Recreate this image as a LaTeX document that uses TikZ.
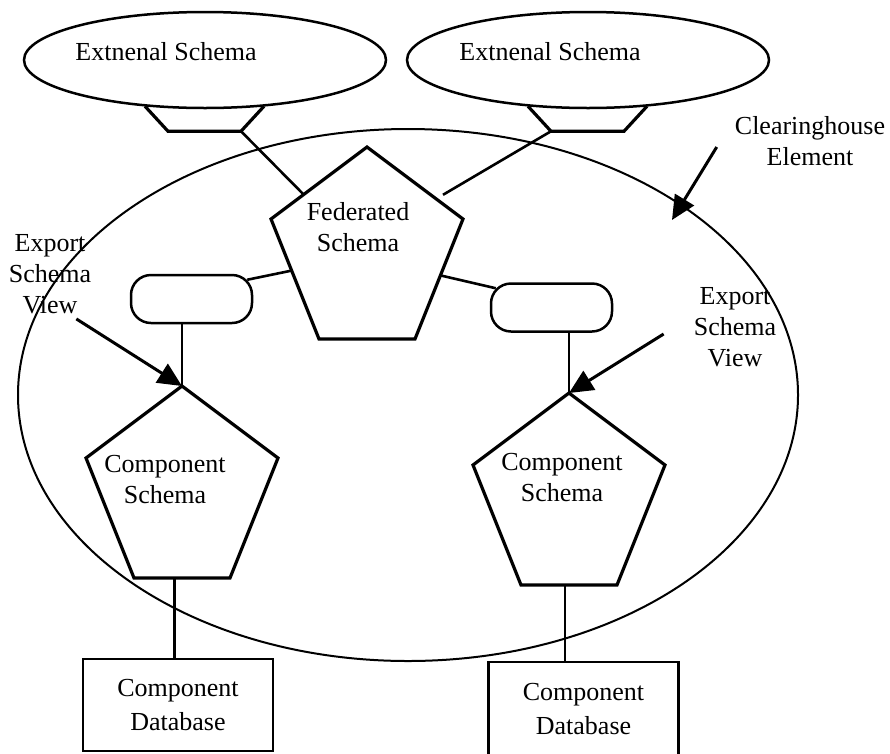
\documentclass[tikz,border=0pt]{standalone}
\usepackage{fontspec}
\setmainfont{Liberation Serif}
\usetikzlibrary{arrows.meta,shapes.geometric,calc}

\tikzset{
	extschema/.style={draw,ellipse,line width=2.5pt,minimum width=362pt,minimum height=96pt,inner sep=0pt},
	house/.style={draw,ellipse,line width=2pt,minimum width=780pt,minimum height=532pt,inner sep=0pt},
	viewbox/.style={draw,rounded corners=20pt,line width=2.5pt,minimum width=121pt,minimum height=48pt,inner sep=0pt},
	dbbox/.style={draw,rectangle,line width=2.7pt,minimum width=190pt,inner sep=0pt,align=center,font=\fontsize{26}{34}\selectfont},
	lbl/.style={align=center,inner sep=0pt},
	link/.style={line width=2.6pt},
	pentline/.style={line width=3.2pt,line join=miter},
	pointer/.style={line width=3pt,-{Triangle[length=24pt,width=22pt]}},
	pics/schemapent/.style={code={
		\draw[pentline] (0,0) coordinate (-top) -- (-96,72) coordinate (-ul) -- (-48,192) coordinate (-ll)
			-- (48,192) coordinate (-lr) -- (96,72) coordinate (-ur) -- cycle;
	}}
}

\begin{document}
\begin{tikzpicture}[x=1pt,y=-1pt,font=\fontsize{26}{31}\selectfont]
	\useasboundingbox (0,0) rectangle (890,753);
	\node[house] (house) at (408,395) {};
	\node[extschema] (ext1) at (205,60) {};
	\node[extschema] (ext2) [right of=ext1,node distance=383pt] {};
	\node[lbl] (ext1txt) at (166,52) {Extnenal Schema};
	\node[lbl] (ext2txt) at (550,52) {Extnenal Schema};
	\draw[pentline] (ext1.south) ++(-60,-3) -- ++(23,25) coordinate (ext1a) -- ++(73,0) coordinate (ext1b) -- ++(23,-25);
	\draw[pentline] (ext2.south) ++(-60,-3) -- ++(23,25) coordinate (ext2a) -- ++(73,0) coordinate (ext2b) -- ++(23,-25);

	\pic (fed) at (367,147) {schemapent};
	\pic (lcomp) at (182,386) {schemapent};
	\pic (rcomp) at (569,393) {schemapent};
	\node[lbl] (fedtxt) at (358,227) {Federated\\Schema};
	\node[lbl] (lcomptxt) at (165,480) {Component\\Schema};
	\node[lbl] (rcomptxt) at (562,478) {Component\\Schema};

	\node[viewbox] (viewL) at (191.5,299) {};
	\node[viewbox] (viewR) at (551.5,307.5) {};
	\node[dbbox,minimum height=92pt] (db1) at (178,705) {Component\\Database};
	\node[dbbox,minimum height=95pt] (db2) at (583.5,709.5) {Component\\Database};

	\draw[link] (ext1b) -- ($(fed-top)!0.66!(fed-ul)$);
	\draw[link,shorten >=8pt] (ext2a) -- ($(fed-top)!0.72!(fed-ur)$);
	\draw[link] ([shift={(-6,6)}]viewL.north east) -- ($(fed-ul)!0.43!(fed-ll)$);
	\draw[link] ($(fed-ur)!0.47!(fed-lr)$) -- ([shift={(6,6)}]viewR.north west);
	\draw[link] (viewL.south -| lcomp-top) -- (lcomp-top);
	\draw[link] (viewR.south -| rcomp-top) -- (rcomp-top);
	\coordinate (lcompbot) at ($(lcomp-ll)!0.42!(lcomp-lr)$);
	\coordinate (rcompbot) at ($(rcomp-ll)!0.46!(rcomp-lr)$);
	\draw[link] (lcompbot) -- (lcompbot |- db1.north);
	\draw[link] (rcompbot) -- ([yshift=-2pt]rcompbot |- db2.north);

	\node[lbl] (clh) at (810,141) {Clearinghouse\\Element};
	\node[lbl] (expL) at (50,274) {Export\\Schema\\View};
	\node[lbl] (expR) at (735,327) {Export\\Schema\\View};
	\coordinate (clhtip) at (672,220);
	\draw[pointer] ([shift={(-18,6)}]clh.west) -- (clhtip);
	\draw[pointer] ([shift={(-15,5)}]expL.south east) -- (lcomp-top);
	\draw[pointer] ([shift={(-30,7)}]expR.west) -- (rcomp-top);
\end{tikzpicture}
\end{document}
